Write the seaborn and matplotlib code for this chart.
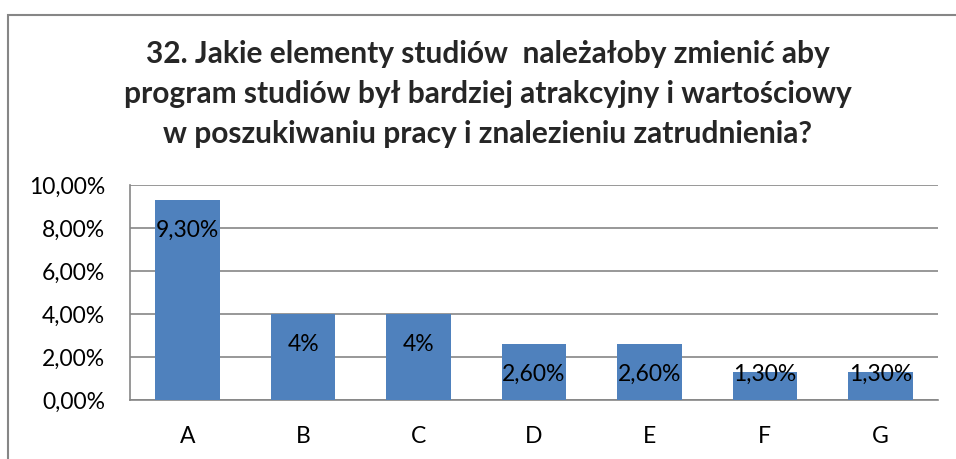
import matplotlib
matplotlib.use("Agg")
import matplotlib.pyplot as plt
from matplotlib.patches import Rectangle
import seaborn as sns
import pandas as pd

# Data
categories = ["A", "B", "C", "D", "E", "F", "G"]
values = [9.3, 4.0, 4.0, 2.6, 2.6, 1.3, 1.3]
value_labels = ["9,30%", "4%", "4%", "2,60%", "2,60%", "1,30%", "1,30%"]
y_ticks = [0, 2, 4, 6, 8, 10]
title = ("32. Jakie elementy studiów  należałoby zmienić aby\n"
         "program studiów był bardziej atrakcyjny i wartościowy\n"
         "w poszukiwaniu pracy i znalezieniu zatrudnienia?")

sns.set_style("white")
plt.rcParams["font.family"] = ["Lato", "DejaVu Sans"]

W, H = 956, 459
fig = plt.figure(figsize=(W / 100, H / 100), dpi=100)

# outer chart frame (cut off on the right and bottom like the original)
fig.patches.append(Rectangle((8 / W, -0.1), 1.2, (H - 15) / H + 0.1,
                             transform=fig.transFigure, fill=False,
                             edgecolor="#868686", linewidth=1.5))

ax = fig.add_axes([130 / W, (H - 400) / H, 808 / W, 215 / H])

df = pd.DataFrame({"cat": categories, "val": values})
sns.barplot(data=df, x="cat", y="val", color="#4F81BD", saturation=1,
            width=0.56, ax=ax, zorder=3, edgecolor="none", linewidth=0)

ax.set_xlim(-0.5, len(categories) - 0.5)
ax.set_ylim(0, 10)
ax.set_yticks(y_ticks)
ax.set_yticklabels([f"{t:.2f}%".replace(".", ",") for t in y_ticks])
ax.grid(axis="y", color="#868686", linewidth=1.2, zorder=0)
ax.set_axisbelow(True)
for side in ["top", "right"]:
    ax.spines[side].set_visible(False)
for side in ["left", "bottom"]:
    ax.spines[side].set_color("#868686")
    ax.spines[side].set_linewidth(1.2)
ax.tick_params(axis="y", length=0, pad=18, labelsize=16.5, colors="black")
ax.tick_params(axis="x", length=0, pad=19, labelsize=16.5, colors="black")
ax.set_xlabel("")
ax.set_ylabel("")

# value labels at the inside end of bars
for i, (v, lab) in enumerate(zip(values, value_labels)):
    ypos = max(v - 1.4, 1.2)
    ax.text(i, ypos, lab, ha="center", va="center", fontsize=16.5,
            color="black", zorder=4)

fig.text(0.51, (H - 94) / H, title, ha="center", va="center",
         fontsize=21.5, fontweight="bold", linespacing=1.52)

fig.savefig("out.png", dpi=100)
